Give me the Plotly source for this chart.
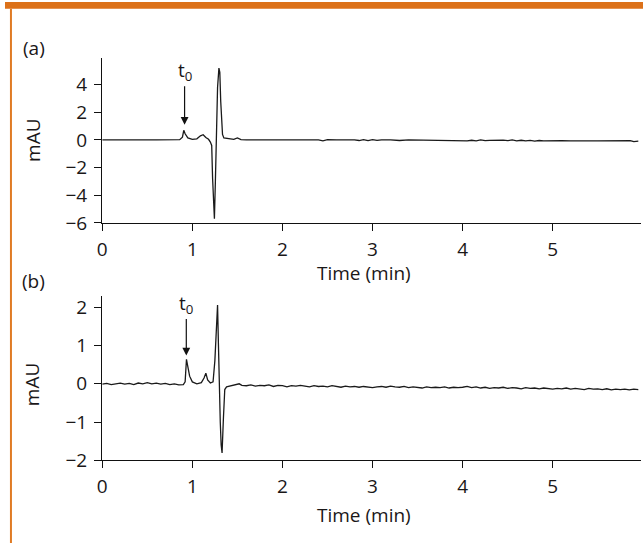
import plotly.graph_objects as go

# ---------------- data ----------------
time_a = [0.00, 0.10, 0.20, 0.30, 0.40, 0.50, 0.60, 0.70, 0.80, 0.86,
          0.89, 0.905, 0.92, 0.95, 1.00, 1.05, 1.09, 1.12, 1.15, 1.18,
          1.20, 1.215, 1.225, 1.235, 1.245, 1.255, 1.265, 1.28, 1.295, 1.305,
          1.315, 1.325, 1.335, 1.35, 1.40, 1.46, 1.50, 1.54, 1.60, 1.70,
          1.80, 1.90, 2.00, 2.10, 2.20, 2.30, 2.40, 2.45, 2.50, 2.60,
          2.70, 2.80, 2.85, 2.90, 2.95, 3.00, 3.05, 3.10, 3.20, 3.30,
          3.40, 3.50, 3.60, 3.70, 3.80, 3.90, 4.00, 4.05, 4.10, 4.15,
          4.20, 4.25, 4.30, 4.35, 4.40, 4.45, 4.50, 4.55, 4.60, 4.65,
          4.70, 4.75, 4.80, 4.85, 4.90, 4.95, 5.00, 5.10, 5.20, 5.30,
          5.40, 5.50, 5.60, 5.70, 5.80, 5.86, 5.90, 5.95]
mau_a = [0.00, 0.01, 0.00, 0.00, 0.01, 0.00, 0.00, 0.01, 0.00, 0.02,
         0.20, 0.70, 0.45, 0.15, 0.05, 0.08, 0.30, 0.38, 0.18, 0.05,
         -0.15, -0.40, -2.80, -4.60, -5.70, -3.20, 0.40, 3.80, 5.20, 4.90,
         2.80, 1.20, 0.40, 0.15, 0.08, 0.05, 0.15, 0.03, 0.00, 0.00,
         0.00, 0.01, 0.00, 0.00, 0.01, 0.00, 0.00, -0.06, 0.02, 0.00,
         0.01, 0.00, -0.04, 0.03, -0.05, 0.02, -0.03, 0.00, 0.00, -0.04,
         0.00, -0.01, -0.01, -0.02, -0.02, -0.03, -0.02, -0.07, -0.02, -0.06,
         0.00, -0.05, -0.03, -0.02, -0.06, -0.01, -0.05, 0.00, -0.06, -0.02,
         -0.07, -0.03, -0.08, -0.04, -0.06, -0.05, -0.07, -0.05, -0.06, -0.08,
         -0.06, -0.06, -0.06, -0.06, -0.06, -0.05, -0.12, -0.08]

time_b = [0.00, 0.05, 0.10, 0.15, 0.20, 0.25, 0.30, 0.35, 0.40, 0.45,
          0.50, 0.55, 0.60, 0.65, 0.70, 0.75, 0.80, 0.85, 0.90, 0.92,
          0.935, 0.95, 0.97, 1.00, 1.05, 1.10, 1.13, 1.15, 1.17, 1.20,
          1.23, 1.25, 1.265, 1.28, 1.29, 1.30, 1.31, 1.32, 1.33, 1.345,
          1.36, 1.38, 1.42, 1.46, 1.50, 1.52, 1.55, 1.60, 1.65, 1.70,
          1.75, 1.80, 1.85, 1.90, 1.95, 2.00, 2.05, 2.10, 2.15, 2.20,
          2.25, 2.30, 2.35, 2.40, 2.45, 2.50, 2.55, 2.60, 2.65, 2.70,
          2.75, 2.80, 2.85, 2.90, 2.95, 3.00, 3.05, 3.10, 3.15, 3.20,
          3.25, 3.30, 3.35, 3.40, 3.45, 3.50, 3.55, 3.60, 3.65, 3.70,
          3.75, 3.80, 3.85, 3.90, 3.95, 4.00, 4.05, 4.10, 4.15, 4.20,
          4.25, 4.30, 4.35, 4.40, 4.45, 4.50, 4.55, 4.60, 4.65, 4.70,
          4.75, 4.80, 4.85, 4.90, 4.95, 5.00, 5.05, 5.10, 5.15, 5.20,
          5.25, 5.30, 5.35, 5.40, 5.45, 5.50, 5.55, 5.60, 5.65, 5.70,
          5.75, 5.80, 5.85, 5.90, 5.95]
mau_b = [-0.01, 0.01, -0.02, 0.00, 0.02, -0.01, 0.01, -0.02, 0.02, 0.00,
         0.03, 0.00, 0.02, -0.01, 0.01, -0.02, 0.00, -0.03, -0.02, 0.05,
         0.64, 0.45, 0.20, 0.05, 0.00, 0.03, 0.15, 0.28, 0.10, 0.02,
         0.05, 0.60, 1.20, 2.06, 1.00, -0.30, -1.00, -1.60, -1.81, -0.90,
         -0.15, -0.08, -0.06, -0.05, -0.02, 0.00, -0.04, -0.05, -0.03, -0.06,
         -0.04, -0.05, -0.03, -0.07, -0.04, -0.05, -0.08, -0.05, -0.06, -0.04,
         -0.06, -0.08, -0.05, -0.07, -0.06, -0.08, -0.05, -0.07, -0.09, -0.06,
         -0.08, -0.07, -0.09, -0.07, -0.08, -0.10, -0.08, -0.07, -0.09, -0.06,
         -0.08, -0.09, -0.07, -0.10, -0.08, -0.09, -0.11, -0.08, -0.10, -0.09,
         -0.10, -0.08, -0.11, -0.09, -0.10, -0.09, -0.07, -0.10, -0.08, -0.11,
         -0.09, -0.12, -0.10, -0.11, -0.09, -0.12, -0.10, -0.11, -0.13, -0.10,
         -0.12, -0.11, -0.13, -0.11, -0.12, -0.14, -0.12, -0.13, -0.11, -0.14,
         -0.12, -0.13, -0.15, -0.12, -0.14, -0.13, -0.15, -0.13, -0.16, -0.14,
         -0.15, -0.14, -0.16, -0.14, -0.15]

x_ticks = [0, 1, 2, 3, 4, 5]
y_ticks_a = [-6, -4, -2, 0, 2, 4]
y_ticks_b = [-2, -1, 0, 1, 2]
t0_a = (0.914, 1.1)
t0_b = (0.933, 0.74)

# ---------------- figure ----------------
W, H = 643, 556
FONT = "Open Sans"
TXT = "#1a1718"
ORANGE = "#DC7119"


def px(x):
    return x / W


def py(y):
    return 1 - y / H


fig = go.Figure()
fig.add_trace(go.Scatter(x=time_a, y=mau_a, mode="lines",
                         line=dict(color="#1a1a1a", width=1.3),
                         xaxis="x", yaxis="y", showlegend=False, hoverinfo="skip"))
fig.add_trace(go.Scatter(x=time_b, y=mau_b, mode="lines",
                         line=dict(color="#1a1a1a", width=1.3),
                         xaxis="x2", yaxis="y2", showlegend=False, hoverinfo="skip"))

axis_common = dict(showline=True, linecolor="#111", linewidth=1.4,
                   ticks="outside", ticklen=7, tickwidth=1.3, tickcolor="#111",
                   showgrid=False, zeroline=False,
                   tickfont=dict(family=FONT, size=19, color=TXT))

x_dom = [px(98), px(641)]
fig.update_layout(
    width=W, height=H,
    margin=dict(l=0, r=0, t=0, b=0),
    paper_bgcolor="white", plot_bgcolor="white",
    xaxis=dict(domain=x_dom, range=[0, 5.98], tickvals=x_ticks, anchor="y",
               ticklabelstandoff=2, **axis_common),
    yaxis=dict(domain=[py(227), py(58)], range=[-6, 5.9], tickvals=y_ticks_a,
               anchor="x", ticklabelstandoff=3, **axis_common),
    xaxis2=dict(domain=x_dom, range=[0, 5.98], tickvals=x_ticks, anchor="y2",
                ticklabelstandoff=2, **axis_common),
    yaxis2=dict(domain=[py(471), py(302)], range=[-2, 2.3], tickvals=y_ticks_b,
                anchor="x2", ticklabelstandoff=3, **axis_common),
)

ann = []
lab = dict(family=FONT, size=19, color=TXT)
C = dict(xref="paper", yref="paper", xanchor="center", yanchor="middle",
         showarrow=False, font=lab)
ann.append(dict(text="(a)", x=px(29), y=py(47), **C))
ann.append(dict(text="(b)", x=px(29), y=py(287), **C))
ann.append(dict(text="mAU", x=px(28), y=py(142), textangle=-90, **C))
ann.append(dict(text="mAU", x=px(28), y=py(393), textangle=-90, **C))
ann.append(dict(text="Time (min)", x=px(362), y=py(279), **C))
ann.append(dict(text="Time (min)", x=px(362), y=py(527), **C))
ann.append(dict(text="t<sub>0</sub>", x=t0_a[0], y=t0_a[1], xref="x", yref="y",
                showarrow=True, ax=0, ay=-54, arrowhead=2, arrowsize=1.3,
                arrowwidth=1.2, arrowcolor="#111", font=lab))
ann.append(dict(text="t<sub>0</sub>", x=t0_b[0], y=t0_b[1], xref="x2", yref="y2",
                showarrow=True, ax=0, ay=-52, arrowhead=2, arrowsize=1.3,
                arrowwidth=1.2, arrowcolor="#111", font=lab))
fig.update_layout(annotations=ann)

fig.update_layout(shapes=[
    dict(type="rect", xref="paper", yref="paper", x0=0, x1=1, y0=py(7), y1=1,
         fillcolor=ORANGE, line=dict(width=0), layer="above"),
    dict(type="line", xref="paper", yref="paper", x0=px(6), x1=px(6), y0=0, y1=py(7),
         line=dict(color="#E07B24", width=2), layer="above"),
])

fig.write_html("out.html")
